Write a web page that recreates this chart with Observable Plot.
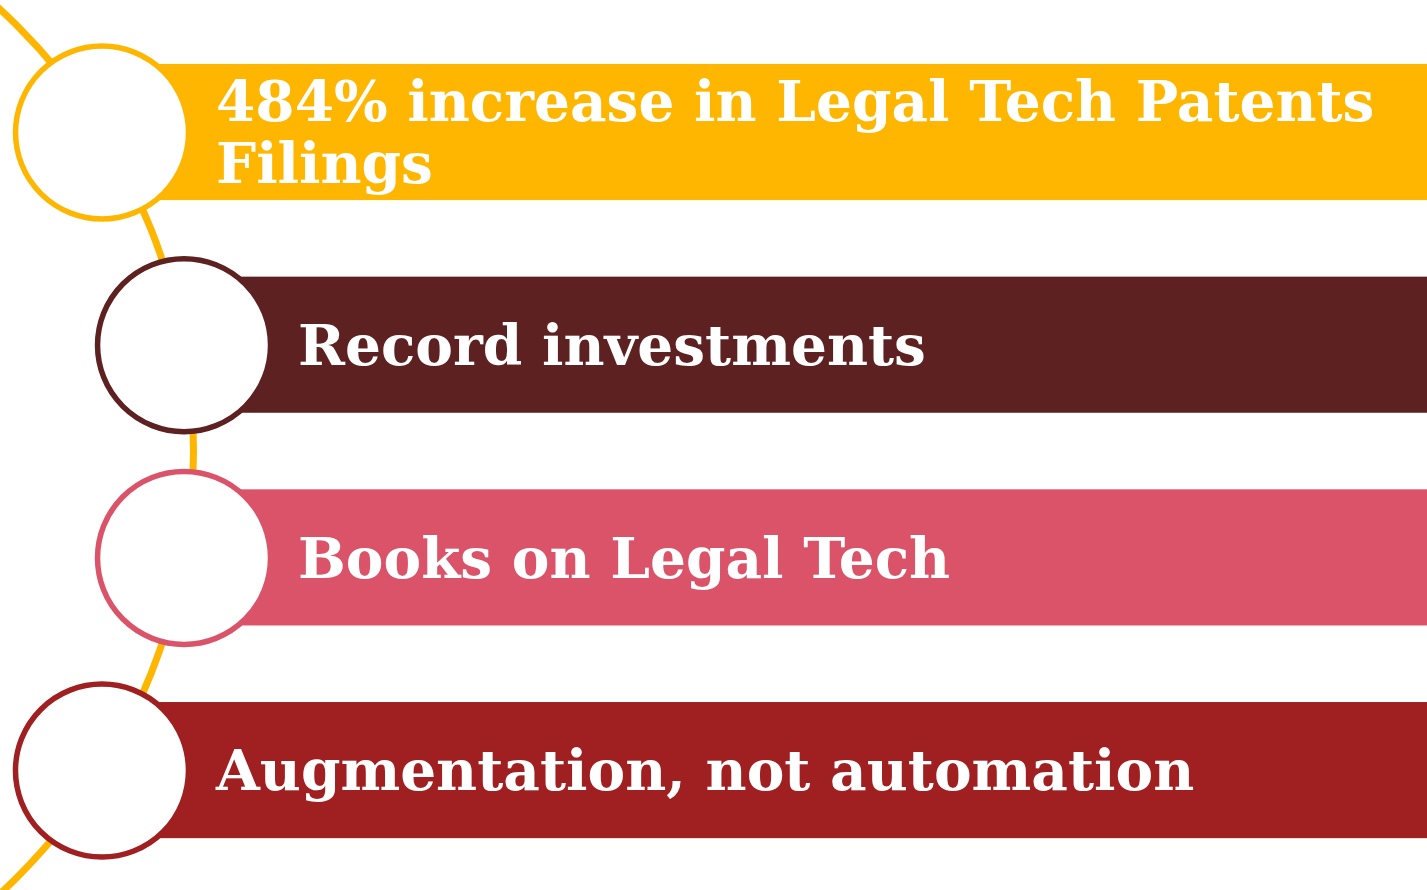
<!DOCTYPE html>
<html>
<head>
<meta charset="utf-8">
<script src="https://cdn.jsdelivr.net/npm/d3@7"></script>
<script src="https://cdn.jsdelivr.net/npm/@observablehq/plot@0.6"></script>
<style>
  html, body { margin: 0; padding: 0; background: #fff; }
  #chart svg { display: block; }
</style>
</head>
<body>
<div id="chart"></div>
<script>
// Data
const labels = [
  "484% increase in Legal Tech Patents\nFilings",
  "Record investments",
  "Books on Legal Tech",
  "Augmentation, not automation"
];
const colors = ["#FFB600", "#5E2121", "#DB5369", "#A01F21"];
const rows = [0, 1, 2, 3];

// Layout (pixels)
const W = 1427, H = 890;
const rowTop = 132, rowStep = 212.7;
const arcCx = -409, arcCyPx = 451, arcR = 602;
const circleR = 86.5;
const barHalf = 0.32;

const yOf = i => rowTop + i * rowStep;
const circleX = i => arcCx + Math.sqrt(arcR * arcR - (yOf(i) - arcCyPx) ** 2);

const data = rows.map(i => ({i, label: labels[i], color: colors[i], cx: circleX(i)}));

const chart = Plot.plot({
  width: W,
  height: H,
  margin: 0,
  x: {domain: [0, W], range: [0, W], axis: null},
  y: {domain: [-rowTop / rowStep, (H - rowTop) / rowStep], range: [0, H], axis: null},
  r: {type: "identity"},
  color: {type: "identity"},
  marks: [
    Plot.dot([{x: arcCx, y: (arcCyPx - rowTop) / rowStep}], {
      x: "x", y: "y", r: arcR, fill: "none", stroke: "#FFB600", strokeWidth: 7, clip: "frame"
    }),
    Plot.rect(data, {
      x1: "cx", x2: W, y1: d => d.i - barHalf, y2: d => d.i + barHalf, fill: "color"
    }),
    Plot.dot(data, {
      x: "cx", y: "i", r: circleR, fill: "white", stroke: "color", strokeWidth: 5.5
    }),
    Plot.text(data, {
      x: "cx", y: "i", text: "label", dx: 114, textAnchor: "start",
      fill: "white", fontSize: 56.5, fontWeight: "bold", lineHeight: 1.09,
      fontFamily: "DejaVu Serif, Georgia, serif"
    })
  ]
});
document.getElementById("chart").appendChild(chart);
</script>
</body>
</html>
